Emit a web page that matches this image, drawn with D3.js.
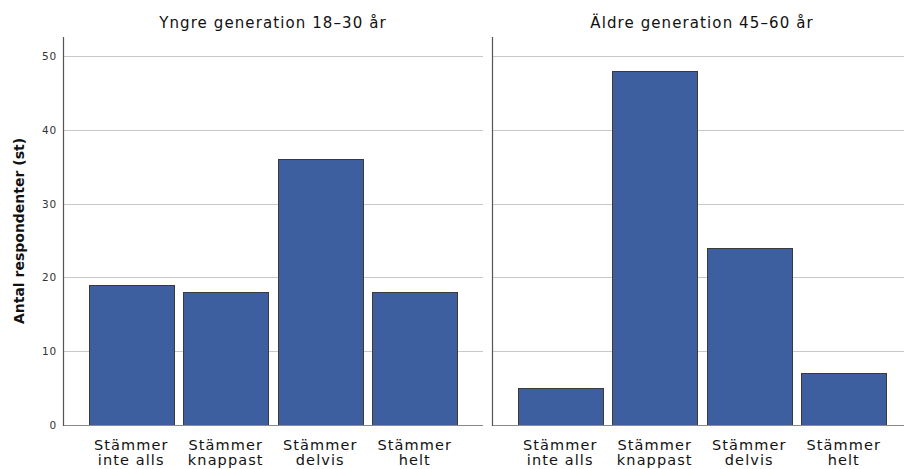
<!DOCTYPE html>
<html>
<head>
<meta charset="utf-8">
<script src="https://cdn.jsdelivr.net/npm/d3@7"></script>
<style>
  body { margin:0; background:#fff; }
  svg text { font-family: "DejaVu Sans", sans-serif; }
</style>
</head>
<body>
<div id="vis"></div>
<script>
// categories and values
var categories = ["Stämmer inte alls", "Stämmer knappast", "Stämmer delvis", "Stämmer helt"]
var catLines = [["Stämmer","inte alls"],["Stämmer","knappast"],["Stämmer","delvis"],["Stämmer","helt"]]
var panelTitles = ["Yngre generation 18\u201330 år", "Äldre generation 45\u201360 år"]
var youngValues = [19, 18, 36, 18]
var oldValues = [5, 48, 24, 7]
var yTicks = [0, 10, 20, 30, 40, 50]
var yLabel = "Antal respondenter (st)"

var width = 904, height = 469
var svg = d3.select("#vis").append("svg").attr("width", width).attr("height", height)

var plotTop = 37, plotBottom = 425
var y = d3.scaleLinear().domain([0, 50]).range([plotBottom, 56])

var panels = [
    {x0: 63, x1: 483, title: panelTitles[0], values: youngValues},
    {x0: 492, x1: 912, title: panelTitles[1], values: oldValues}
]

//y axis title
svg.append("text")
    .attr("transform", "translate(24,231) rotate(-90)")
    .attr("text-anchor", "middle")
    .attr("font-size", 14)
    .attr("font-weight", "bold")
    .attr("fill", "#111")
    .text(yLabel)

//tick labels on the left only
svg.selectAll(".ytick").data(yTicks).enter().append("text")
    .attr("class", "ytick")
    .attr("x", 57).attr("y", function(d){ return y(d) + 4 })
    .attr("text-anchor", "end")
    .attr("font-size", 10.5)
    .attr("letter-spacing", 0.8)
    .attr("fill", "#333")
    .text(function(d){ return d })

panels.forEach(function(p, pi){
    var g = svg.append("g")
    var x = d3.scaleBand().domain(categories).range([p.x0, p.x1])
        .paddingInner(0.1).paddingOuter(0.272)

    //grid
    g.selectAll(".grid").data(yTicks.slice(1)).enter().append("line")
        .attr("x1", p.x0).attr("x2", p.x1)
        .attr("y1", function(d){ return Math.round(y(d)) + 0.5 })
        .attr("y2", function(d){ return Math.round(y(d)) + 0.5 })
        .attr("stroke", "#c8c8c8").attr("stroke-width", 1)

    //bars
    g.selectAll(".bar").data(p.values).enter().append("rect")
        .attr("x", function(d, i){ return Math.round(x(categories[i])) + 0.5 })
        .attr("y", function(d){ return Math.round(y(d)) + 0.5 })
        .attr("width", Math.round(x.bandwidth()))
        .attr("height", function(d){ return plotBottom - Math.round(y(d)) })
        .attr("fill", "#3d5f9f")
        .attr("stroke", "#3a3a3a").attr("stroke-width", 1)

    //baseline and axis
    g.append("line").attr("x1", p.x0).attr("x2", p.x1)
        .attr("y1", plotBottom + 0.5).attr("y2", plotBottom + 0.5)
        .attr("stroke", "#8a8a8a").attr("stroke-width", 1)
    g.append("line").attr("x1", p.x0 + 0.5).attr("x2", p.x0 + 0.5)
        .attr("y1", plotTop).attr("y2", plotBottom + 1)
        .attr("stroke", "#555").attr("stroke-width", 1.2)

    //panel title
    g.append("text")
        .attr("x", (p.x0 + 420 / 2)).attr("y", 28)
        .attr("text-anchor", "middle")
        .attr("font-size", 15)
        .attr("letter-spacing", 1.1)
        .attr("fill", "#111")
        .text(p.title)

    //category labels
    var lab = g.selectAll(".cat").data(catLines).enter().append("text")
        .attr("text-anchor", "middle")
        .attr("font-size", 14.5)
        .attr("letter-spacing", 1.1)
        .attr("fill", "#111")
        .attr("transform", function(d, i){
            return "translate(" + (x(categories[i]) + x.bandwidth() / 2) + ",0)"
        })
    lab.selectAll("tspan").data(function(d){ return d }).enter().append("tspan")
        .attr("x", 0)
        .attr("y", function(d, j){ return 450 + j * 15 })
        .text(function(d){ return d })
})
</script>
</body>
</html>
